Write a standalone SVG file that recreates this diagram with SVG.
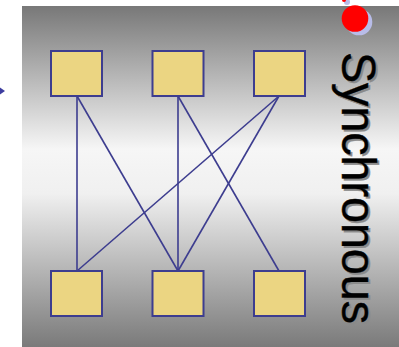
<svg xmlns="http://www.w3.org/2000/svg" width="399" height="347" viewBox="0 0 399 347">
<defs>
<linearGradient id="bg" x1="0" y1="0" x2="0" y2="1">
<stop offset="0" stop-color="#787878"/>
<stop offset="0.42" stop-color="#f6f6f6"/>
<stop offset="0.55" stop-color="#f0f0f0"/>
<stop offset="1" stop-color="#7a7a7a"/>
</linearGradient>
<style>
.box{fill:#ebd582;stroke:#3d3d8f;stroke-width:2}
.edge{stroke:#3d3d8f;stroke-width:1.6;fill:none}
.lbl{font-family:"Liberation Sans",Arial,sans-serif;font-size:49px;stroke-width:0.4}
</style>
</defs>
<rect x="0" y="0" width="399" height="347" fill="#ffffff"/>
<rect x="22" y="6" width="377" height="341" fill="url(#bg)"/>
<polygon points="-2,86 5,91 -2,96" fill="#3d3d9f"/>
<g id="connectors">
<line class="edge" x1="77" y1="96" x2="77" y2="271"/>
<line class="edge" x1="77" y1="96" x2="178" y2="271"/>
<line class="edge" x1="178" y1="96" x2="178" y2="271"/>
<line class="edge" x1="178" y1="96" x2="279" y2="271"/>
<line class="edge" x1="279" y1="96" x2="77" y2="271"/>
<line class="edge" x1="279" y1="96" x2="178" y2="271"/>
</g>
<g id="t1"><rect class="box" x="51" y="51" width="51" height="45"/></g>
<g id="t2"><rect class="box" x="152.5" y="51" width="51" height="45"/></g>
<g id="t3"><rect class="box" x="254" y="51" width="51" height="45"/></g>
<g id="b1"><rect class="box" x="51" y="271" width="51" height="45"/></g>
<g id="b2"><rect class="box" x="152.5" y="271" width="51" height="45"/></g>
<g id="b3"><rect class="box" x="254" y="271" width="51" height="45"/></g>
<g id="bullet">
<circle cx="347" cy="2" r="3" fill="#b8bce8"/>
<circle cx="344" cy="0" r="2" fill="#ff0000"/>
<circle cx="359" cy="22" r="13.3" fill="#b8bce8"/>
<circle cx="355" cy="18.5" r="13.3" fill="#ff0000"/>
</g>
<g id="title">
<text class="lbl" transform="translate(342,52) rotate(90)" x="2" y="-2" fill="#8a8a8a" stroke="#8a8a8a" textLength="272" lengthAdjust="spacingAndGlyphs">Synchronous</text>
<text class="lbl" transform="translate(342,52) rotate(90)" x="0" y="0" fill="#000000" stroke="#000000" textLength="272" lengthAdjust="spacingAndGlyphs">Synchronous</text>
</g>
</svg>
